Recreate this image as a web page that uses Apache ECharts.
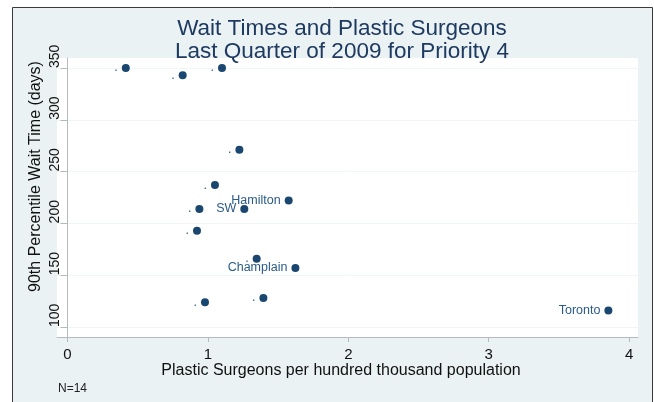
<!DOCTYPE html>
<html>
<head>
<meta charset="utf-8">
<style>
  html, body { margin: 0; padding: 0; background: #ffffff; }
  #chart { width: 654px; height: 402px; }
</style>
<script src="https://cdn.jsdelivr.net/npm/echarts@6/dist/echarts.min.js"></script>
</head>
<body>
<div id="chart"></div>
<script>
// Surgeons per 100k population and 90th percentile wait times, by region
const surgeons = [0.415, 0.82, 1.10, 1.224, 1.05, 1.575, 0.939, 1.259, 0.922, 1.347, 1.623, 1.395, 0.979, 3.852];
const waitDays = [350, 343, 350, 271, 237, 222, 214, 214, 193, 166, 157, 128, 124, 116];
const regionLabels = ['.', '.', '.', '.', '.', 'Hamilton', '.', 'SW', '.', '.', 'Champlain', '.', '.', 'Toronto'];

const xTicks = [0, 1, 2, 3, 4];
const yTicks = [100, 150, 200, 250, 300, 350];

const titleLines = ['Wait Times and Plastic Surgeons', 'Last Quarter of 2009 for Priority 4'];
const xTitle = 'Plastic Surgeons per hundred thousand population';
const yTitle = '90th Percentile Wait Time (days)';
const noteText = 'N=14';

const FONT = '"Liberation Sans", Arial, Helvetica, sans-serif';
const NAVY = '#1a476f';

const points = surgeons.map((x, i) => ({ value: [x, waitDays[i]], name: regionLabels[i] }));

const chart = echarts.init(document.getElementById('chart'), null, { renderer: 'canvas' });

chart.setOption({
  backgroundColor: '#ffffff',
  animation: false,
  textStyle: { fontFamily: FONT },
  graphic: [
    {
      type: 'rect',
      z: -10,
      silent: true,
      shape: { x: 12.5, y: 7.5, width: 640, height: 400 },
      style: { fill: '#eaf2f3', stroke: '#3a3a3a', lineWidth: 1 }
    },
    {
      type: 'text',
      left: 58,
      top: 383,
      style: { text: noteText, font: '12px ' + FONT, fill: '#222222' }
    },
    {
      type: 'text',
      x: 342,
      y: 17,
      style: {
        text: titleLines.join('\n'),
        font: '22.5px ' + FONT,
        lineHeight: 23,
        align: 'center',
        verticalAlign: 'top',
        fill: '#1f3a60'
      }
    }
  ],
  grid: {
    left: 57, right: 16, top: 58, bottom: 65,
    show: true,
    backgroundColor: '#ffffff',
    borderWidth: 0
  },
  xAxis: {
    type: 'value',
    min: -0.075,
    max: 4.063,
    name: xTitle,
    nameLocation: 'middle',
    nameGap: 26,
    nameMoveOverlap: false,
    nameTextStyle: { fontSize: 16, color: '#111111', padding: [0, 13, 0, 0] },
    axisLine: { show: true, lineStyle: { color: '#b4babd', width: 1 } },
    axisTick: { show: true, customValues: xTicks, length: 5, lineStyle: { color: '#b4babd' } },
    axisLabel: { customValues: xTicks, margin: 10, fontSize: 15, color: '#111111' },
    splitLine: { show: false }
  },
  yAxis: {
    type: 'value',
    min: 90.35,
    max: 359.65,
    name: yTitle,
    nameLocation: 'middle',
    nameGap: 13,
    nameMoveOverlap: false,
    nameTextStyle: { fontSize: 16, color: '#111111', padding: [0, 0, 0, 42] },
    axisLine: { show: true, lineStyle: { color: '#b4babd', width: 1 } },
    axisTick: { show: true, customValues: yTicks, length: 7, lineStyle: { color: '#b4babd' } },
    axisLabel: {
      customValues: yTicks,
      rotate: 90,
      align: 'left',
      verticalAlign: 'middle',
      margin: 2,
      fontSize: 14,
      color: '#111111'
    },
    splitLine: { show: true, lineStyle: { color: '#f0f5f6', width: 1 } }
  },
  series: [
    {
      type: 'scatter',
      data: points,
      symbol: 'circle',
      symbolSize: 8,
      itemStyle: { color: NAVY, opacity: 1 },
      label: {
        show: true,
        position: 'left',
        distance: 4,
        formatter: p => p.name,
        fontSize: 12.5,
        color: '#2a5b8a'
      }
    }
  ]
});
</script>
</body>
</html>
